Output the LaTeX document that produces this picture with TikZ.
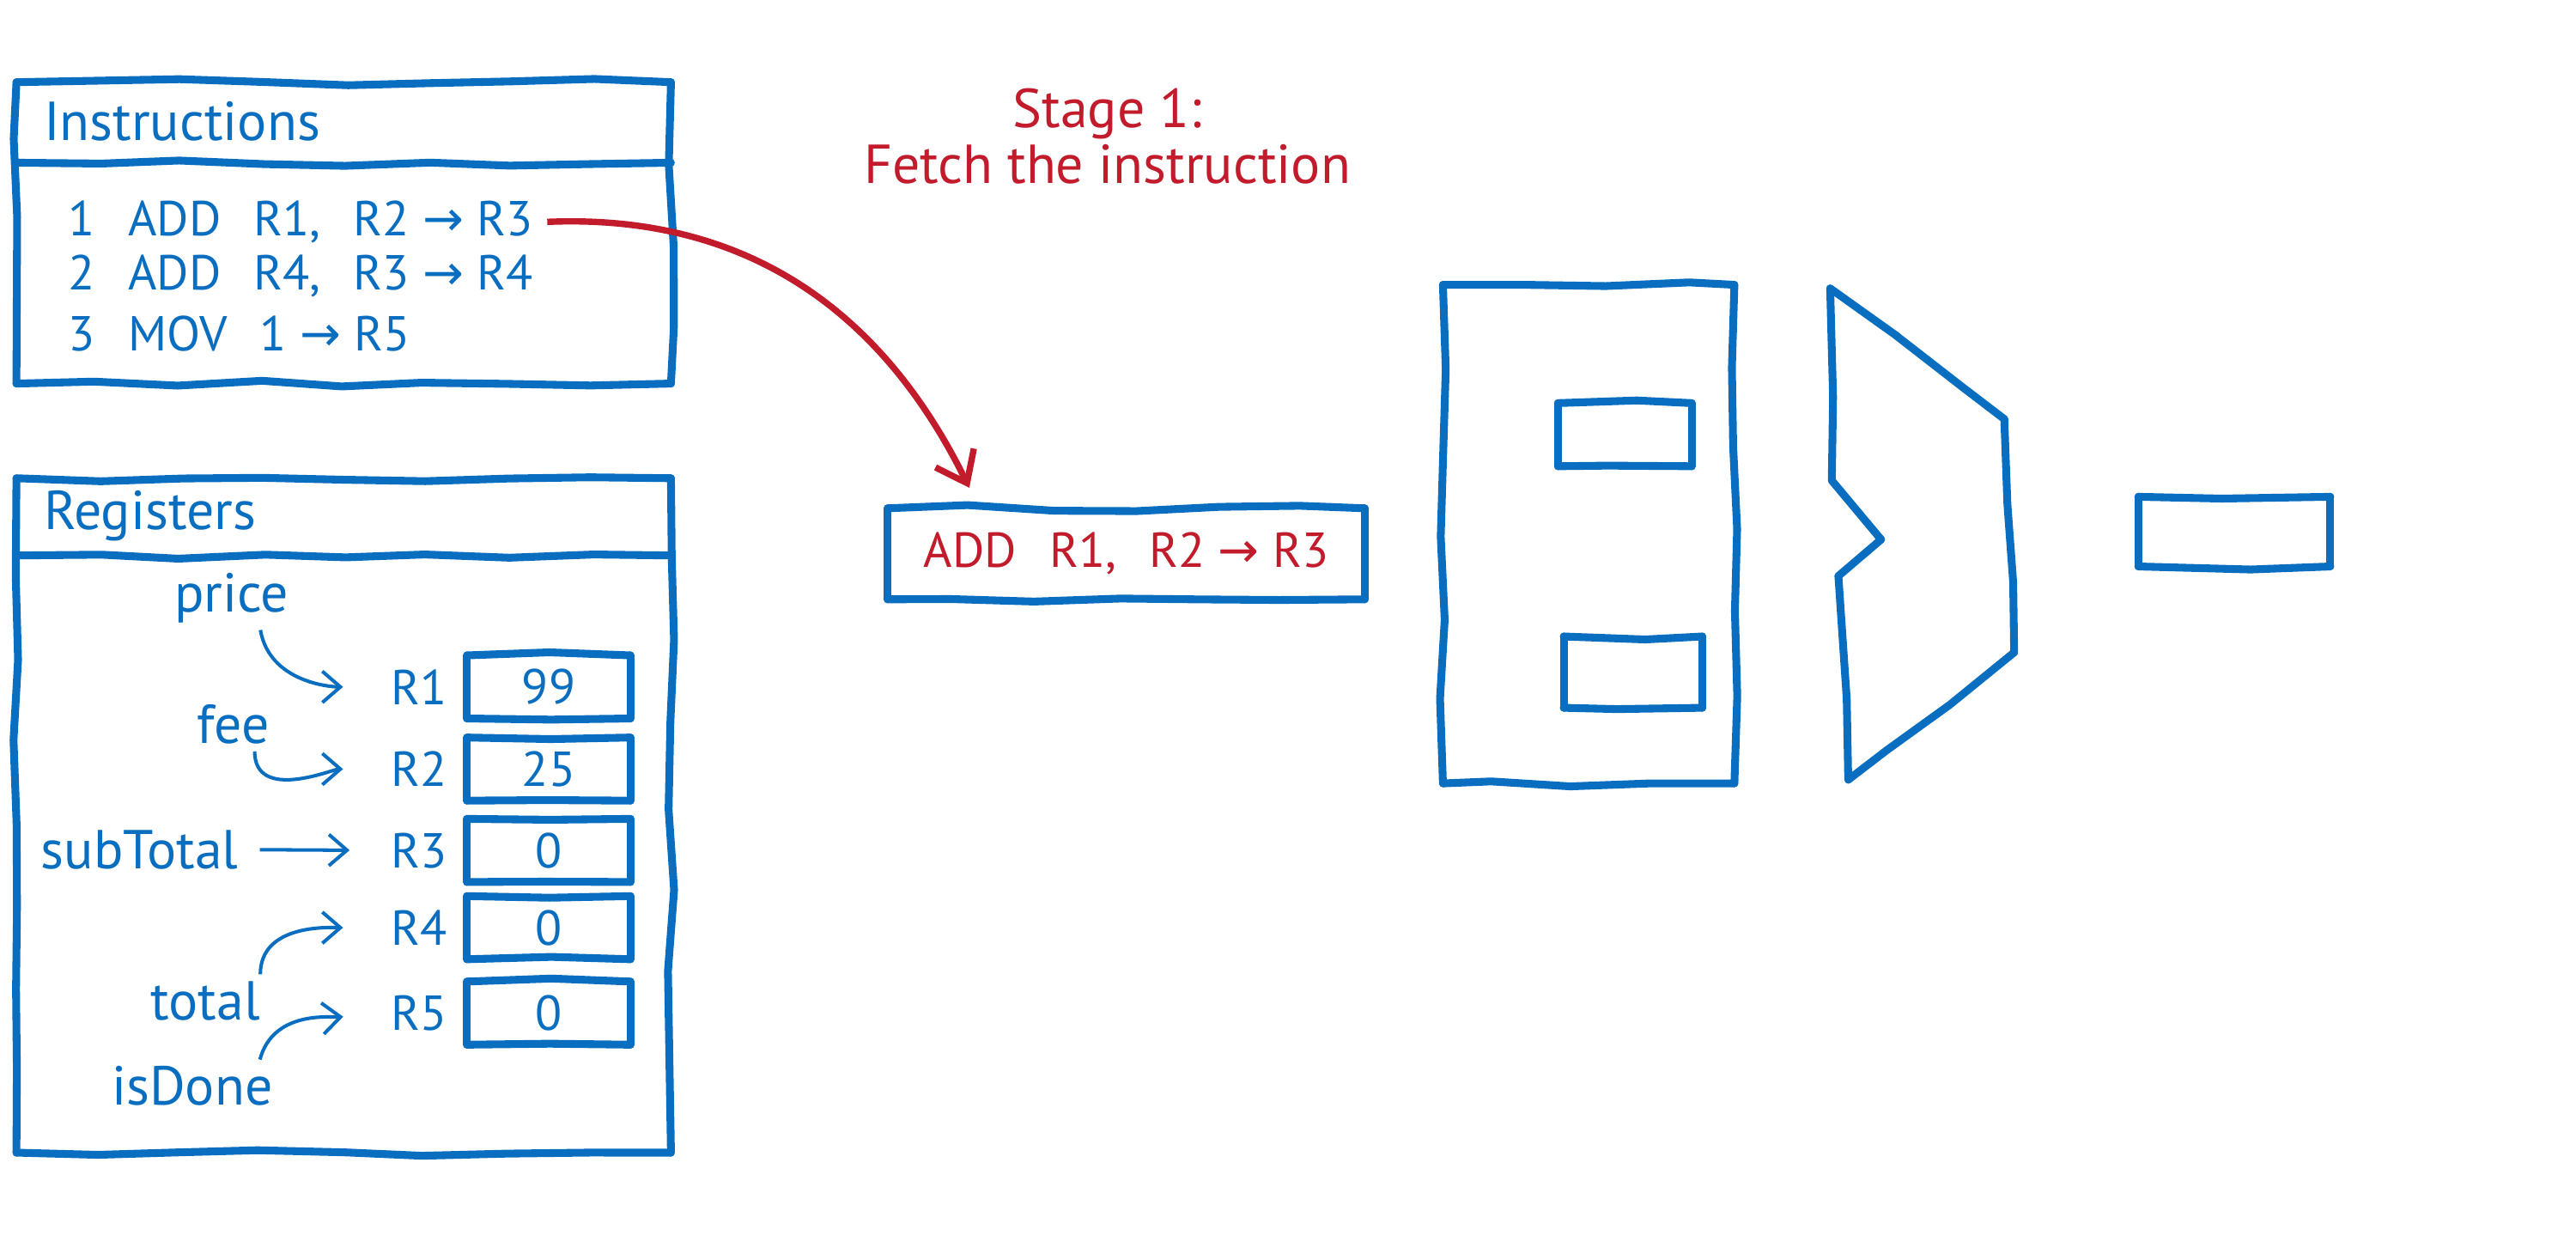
\documentclass[tikz,border=0pt]{standalone}
\usepackage{fontspec}
\setmainfont{PT Sans}
\newfontfamily\arrowfont{DejaVu Sans}
\usetikzlibrary{positioning,arrows.meta,decorations.pathmorphing}
\definecolor{skblue}{RGB}{10,110,192}
\definecolor{skred}{RGB}{194,27,43}
\newcommand\sep{\hspace{0.2cm}}
\newcommand\toarr{{\arrowfont →}}
\newcommand\sketchbox[1]{%
	\draw[sketchline] (#1.north west) -- (#1.north east);
	\draw[sketchline] (#1.north east) -- (#1.south east);
	\draw[sketchline] (#1.south east) -- (#1.south west);
	\draw[sketchline] (#1.south west) -- (#1.north west);}

\begin{document}
\pgfmathsetseed{12}
\begin{tikzpicture}[
sketchline/.style={draw=skblue, line width=1.35pt, line cap=round, decorate, decoration={random steps, segment length=5mm, amplitude=0.2mm}},
panel/.style={anchor=north west, inner sep=0pt},
unitbox/.style={inner sep=0pt},
small/.style={font=\fontsize{8.5}{9}\selectfont},
cellbox/.style={small, minimum width=0.98cm, minimum height=0.37cm, inner sep=0pt, text=skblue},
regname/.style={small, text=skblue, inner sep=1pt},
varname/.style={text=skblue, inner sep=1pt},
instline/.style={small, text=skblue, anchor=west, inner sep=0pt},
varlink/.style={draw=skblue, line width=0.6pt, -{Straight Barb[length=1.1mm,width=1.9mm]}, shorten >=2.5mm},
fetcharrow/.style={draw=skred, line width=1.1pt, -{Straight Barb[length=1.7mm,width=2.6mm]}},
font=\fontsize{9.5}{9.7}\selectfont
]
\useasboundingbox (0,0) rectangle (15.68,-7.664);

% instruction memory
\node[panel, minimum width=3.97cm, minimum height=1.82cm] (imem) at (0.10,-0.50) {};
\sketchbox{imem}
\draw[sketchline] ([yshift=-0.49cm]imem.north west) -- ([yshift=-0.49cm]imem.north east);
\node[text=skblue, anchor=west, inner sep=0pt] (imemT) at (0.26,-0.74) {Instructions};
\node[instline] (i1) at (0.41,-1.35) {1\sep ADD\sep R1,\sep R2 \toarr{} R3};
\node[instline] (i2) at (0.41,-1.68) {2\sep ADD\sep R4,\sep R3 \toarr{} R4};
\node[instline] (i3) at (0.41,-2.03) {3\sep MOV\sep 1 \toarr{} R5};

% stage label
\node[text=skred, align=center, inner sep=0pt] (stage) at (6.74,-0.83) {Stage 1:\\Fetch the instruction};

% register file
\node[panel, minimum width=3.97cm, minimum height=4.09cm] (regs) at (0.10,-2.91) {};
\sketchbox{regs}
\draw[sketchline] ([yshift=-0.47cm]regs.north west) -- ([yshift=-0.47cm]regs.north east);
\node[text=skblue, anchor=west, inner sep=0pt] (regsT) at (0.26,-3.14) {Registers};
\foreach \n/\v/\y in {1/99/4.18,2/25/4.68,3/0/5.175,4/0/5.645,5/0/6.165}
{
	\node[cellbox] (c\n) at (3.34,-\y) {\v};
	\sketchbox{c\n}
	\node[regname, left=0.08cm of c\n] (r\n) {R\n};
}
\node[varname] (price) at (1.41,-3.64) {price};
\node[varname] (fee) at (1.42,-4.41) {fee};
\node[varname] (subT) at (0.85,-5.17) {subTotal};
\node[varname] (total) at (1.25,-6.09) {total};
\node[varname] (done) at (1.17,-6.61) {isDone};
\draw[varlink] ([xshift=0.175cm]price.south) to[out=-80,in=180] (r1.west);
\draw[varlink] ([xshift=0.13cm]fee.south) to[out=-90,in=180] (r2.west);
\draw[varlink, shorten <=0.9mm, shorten >=2.1mm] (subT.east) -- (r3.west);
\draw[varlink] ([xshift=-0.04cm]total.north east) to[out=90,in=180] (r4.west);
\draw[varlink] ([xshift=-0.12cm]done.north east) to[out=75,in=185] (r5.west);

% fetched instruction
\node[cellbox, minimum width=2.89cm, minimum height=0.54cm, text=skred] (cur) at (6.855,-3.37) {ADD\sep R1,\sep R2 \toarr{} R3};
\sketchbox{cur}
\draw[fetcharrow] ([xshift=0.08cm]i1.east) .. controls (4.5,-1.30) and (5.35,-1.85) .. ([xshift=-0.955cm,yshift=0.125cm]cur.north);

% datapath
\node[unitbox, minimum width=1.76cm, minimum height=3.02cm] (rfile) at (9.67,-3.25) {};
\sketchbox{rfile}
\node[unitbox, minimum width=0.80cm, minimum height=0.37cm] (rdA) at (9.89,-2.645) {};
\sketchbox{rdA}
\node[unitbox, minimum width=0.83cm, minimum height=0.42cm] (rdB) at (9.94,-4.09) {};
\sketchbox{rdB}
\coordinate (a1) at (11.14,-1.755);
\coordinate (a2) at (12.20,-2.55);
\coordinate (a3) at (12.26,-3.97);
\coordinate (a4) at (11.25,-4.745);
\coordinate (a5) at (11.19,-3.505);
\coordinate (a6) at (11.45,-3.283);
\coordinate (a7) at (11.15,-2.924);
\foreach \a/\b in {a1/a2,a2/a3,a3/a4,a4/a5,a5/a6,a6/a7,a7/a1}
	\draw[sketchline] (\a) -- (\b);
\node[unitbox, minimum width=1.155cm, minimum height=0.41cm] (res) at (13.60,-3.235) {};
\sketchbox{res}
\end{tikzpicture}
\end{document}
